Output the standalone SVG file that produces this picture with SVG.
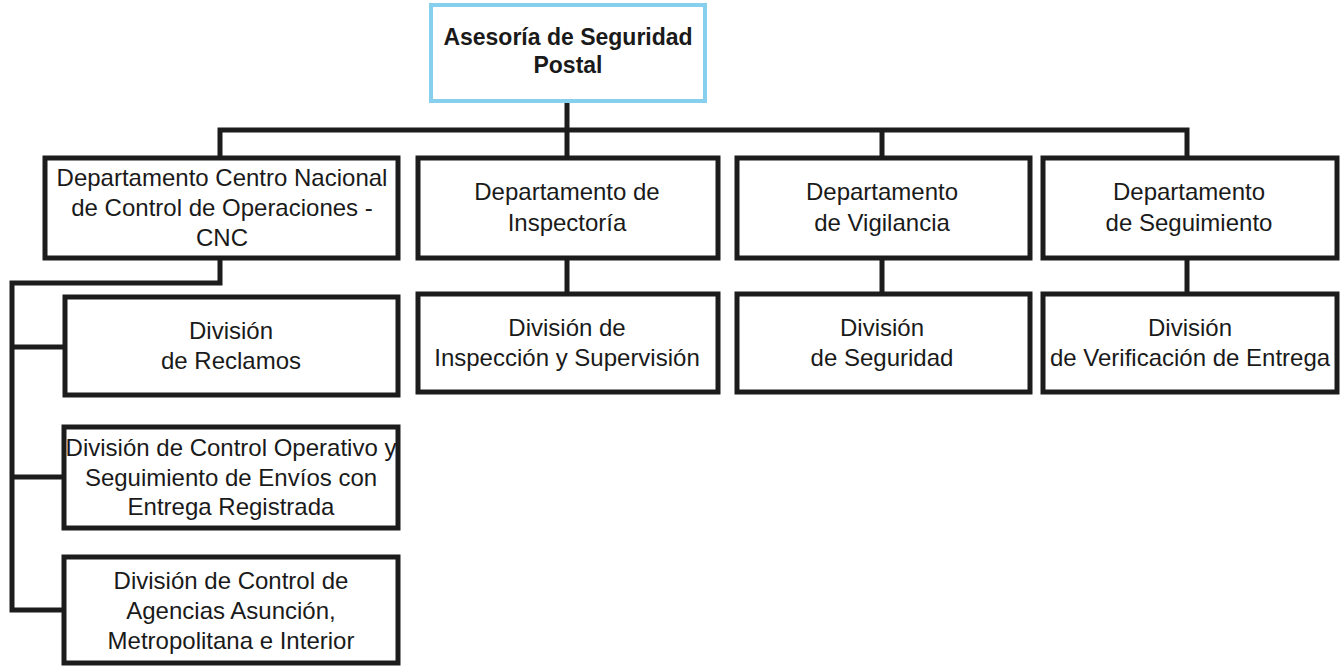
<svg xmlns="http://www.w3.org/2000/svg" width="1343" height="670" viewBox="0 0 1343 670">
<style>
.box{fill:#fff;stroke:#1c1c1c;stroke-width:5}
.top{fill:#fff;stroke:#86d0ee;stroke-width:4}
.t{font-family:"Liberation Sans",Arial,sans-serif;font-size:24px;fill:#1a1a1a;text-anchor:middle}
.tb{font-family:"Liberation Sans",Arial,sans-serif;font-size:23px;font-weight:bold;fill:#1a1a1a;text-anchor:middle}
.c{fill:none;stroke:#1c1c1c;stroke-width:5;stroke-linecap:square}
</style>
<rect width="1343" height="670" fill="#fff"/>
<g id="connectors">
<path class="c" d="M567 102V130M220 130H1187M220 130V158M567 130V158M882 130V158M1187 130V158"/>
<path class="c" d="M567 258V294M882 258V294M1187 258V294"/>
<path class="c" d="M220 258V283H12V610M12 347H65M12 477H65M12 610H65"/>
</g>
<g id="n0"><rect class="top" x="431" y="5" width="274" height="96"/><text class="tb" x="568" y="45">Asesoría de Seguridad</text><text class="tb" x="568" y="73">Postal</text></g>
<g id="n1"><rect class="box" x="45" y="158" width="353" height="100"/><text class="t" x="222" y="186">Departamento Centro Nacional</text><text class="t" x="222" y="216">de Control de Operaciones -</text><text class="t" x="222" y="246">CNC</text></g>
<g id="n2"><rect class="box" x="418" y="158" width="300" height="100"/><text class="t" x="567" y="200">Departamento de</text><text class="t" x="567" y="231">Inspectoría</text></g>
<g id="n3"><rect class="box" x="737" y="158" width="293" height="100"/><text class="t" x="882" y="200">Departamento</text><text class="t" x="882" y="231">de Vigilancia</text></g>
<g id="n4"><rect class="box" x="1043" y="158" width="294" height="100"/><text class="t" x="1189" y="200">Departamento</text><text class="t" x="1189" y="231">de Seguimiento</text></g>
<g id="n5"><rect class="box" x="418" y="294" width="300" height="98"/><text class="t" x="567" y="336">División de</text><text class="t" x="567" y="366">Inspección y Supervisión</text></g>
<g id="n6"><rect class="box" x="737" y="294" width="293" height="98"/><text class="t" x="882" y="336">División</text><text class="t" x="882" y="366">de Seguridad</text></g>
<g id="n7"><rect class="box" x="1043" y="294" width="294" height="98"/><text class="t" x="1190" y="336">División</text><text class="t" x="1190" y="366">de Verificación de Entrega</text></g>
<g id="n8"><rect class="box" x="65" y="297" width="333" height="98"/><text class="t" x="231" y="339">División</text><text class="t" x="231" y="369">de Reclamos</text></g>
<g id="n9"><rect class="box" x="64" y="427" width="334" height="101"/><text class="t" x="231" y="456">División de Control Operativo y</text><text class="t" x="231" y="486">Seguimiento de Envíos con</text><text class="t" x="231" y="515">Entrega Registrada</text></g>
<g id="n10"><rect class="box" x="64" y="557" width="334" height="106"/><text class="t" x="231" y="589">División de Control de</text><text class="t" x="231" y="619">Agencias Asunción,</text><text class="t" x="231" y="649">Metropolitana e Interior</text></g>
</svg>
